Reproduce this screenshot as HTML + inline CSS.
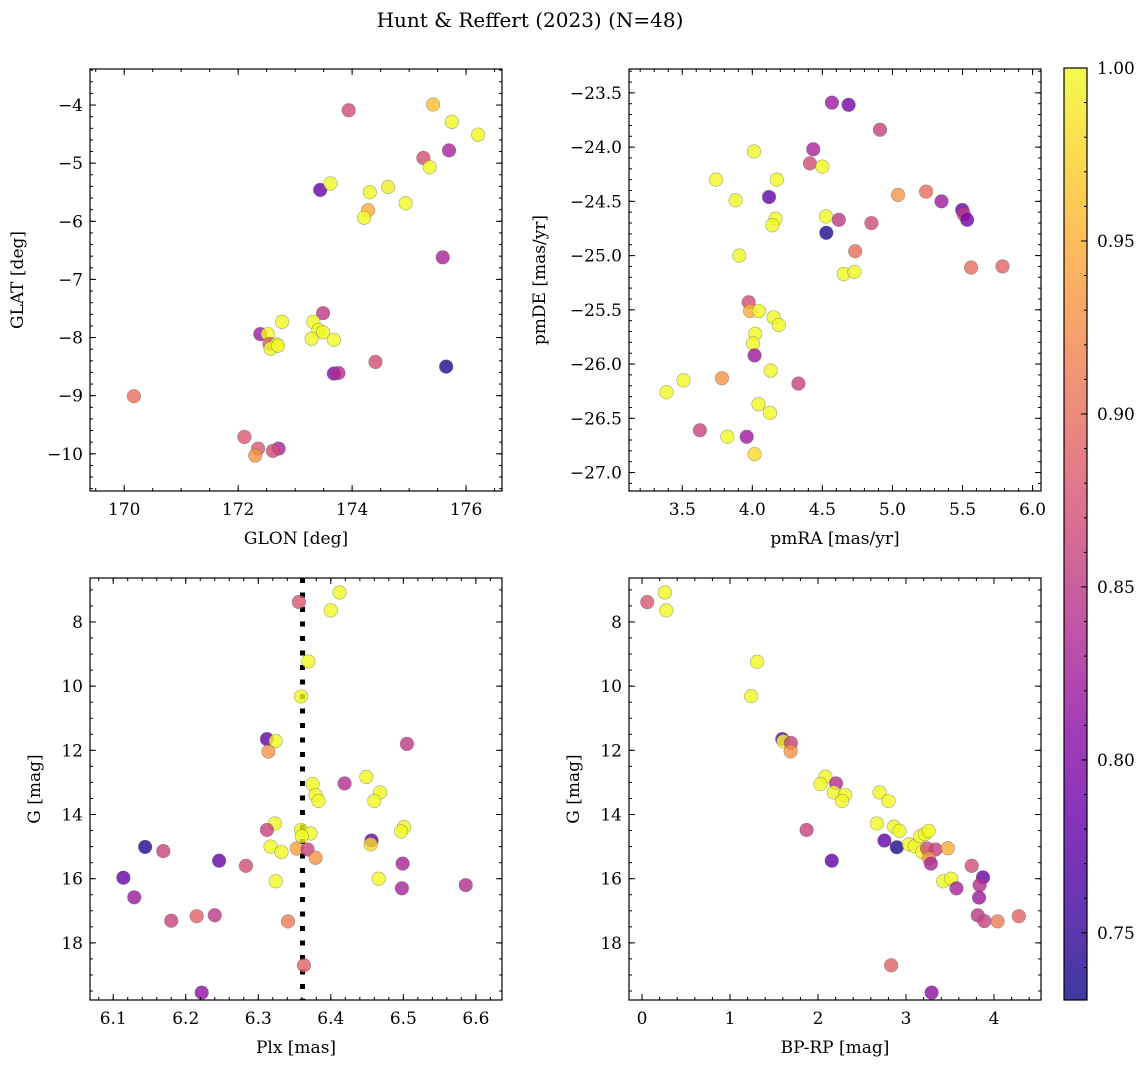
<!DOCTYPE html>
<html><head><meta charset="utf-8">
<style>
html,body{margin:0;padding:0;background:#fff;}
svg text{font-family:"DejaVu Serif","Liberation Serif",serif;fill:#000;}
</style></head>
<body>
<svg id="fig" width="1148" height="1068" viewBox="0 0 1148 1068" xmlns="http://www.w3.org/2000/svg">
<rect width="1148" height="1068" fill="#fff"/>
<text x="530" y="27" font-size="20" text-anchor="middle">Hunt &amp; Reffert (2023) (N=48)</text>
</svg>
<script>
// ---- Panel 1 data: GLON / GLAT ----
const p1_glon=[173.94,175.42,175.75,176.21,175.25,175.70,175.36,173.44,173.62,174.31,174.63,174.94,174.28,174.21,175.59,173.49,172.77,173.32,173.41,173.49,173.29,173.68,172.39,172.52,172.55,172.67,172.57,172.70,174.41,173.68,173.76,175.65,170.17,172.11,172.35,172.30,172.71,172.61];
const p1_glat=[-4.09,-3.99,-4.29,-4.51,-4.91,-4.78,-5.07,-5.46,-5.35,-5.50,-5.41,-5.69,-5.81,-5.94,-6.62,-7.58,-7.73,-7.73,-7.87,-7.91,-8.02,-8.04,-7.94,-7.94,-8.11,-8.12,-8.19,-8.14,-8.42,-8.62,-8.61,-8.50,-9.01,-9.71,-9.91,-10.03,-9.91,-9.95];
const p1_prob=[0.87,0.96,1.0,1.0,0.87,0.83,1.0,0.78,1.0,1.0,0.99,1.0,0.95,1.0,0.83,0.85,1.0,1.0,1.0,1.0,1.0,1.0,0.82,1.0,0.88,1.0,1.0,1.0,0.87,0.80,0.84,0.74,0.90,0.88,0.88,0.93,0.83,0.87];
// ---- Panel 2 data: pmRA / pmDE ----
const p2_pmra=[4.568,4.687,4.911,4.435,4.411,4.50,4.012,3.741,4.175,3.881,4.119,4.166,4.143,4.526,4.617,4.528,4.850,5.04,5.24,5.35,5.498,5.51,5.533,4.734,5.561,5.785,3.907,4.652,4.729,3.974,3.984,4.047,4.152,4.189,4.021,4.005,4.016,4.131,3.509,3.388,3.783,4.329,4.044,4.126,3.626,3.822,3.960,4.016];
const p2_pmde=[-23.59,-23.61,-23.84,-24.02,-24.15,-24.18,-24.04,-24.30,-24.30,-24.49,-24.46,-24.66,-24.72,-24.64,-24.67,-24.79,-24.70,-24.44,-24.41,-24.50,-24.58,-24.62,-24.67,-24.96,-25.11,-25.10,-25.00,-25.17,-25.15,-25.43,-25.51,-25.51,-25.57,-25.64,-25.72,-25.81,-25.92,-26.06,-26.15,-26.26,-26.13,-26.18,-26.37,-26.45,-26.61,-26.67,-26.67,-26.83];
const p2_prob=[0.82,0.79,0.86,0.83,0.87,1.0,1.0,1.0,1.0,1.0,0.78,1.0,1.0,1.0,0.85,0.74,0.87,0.93,0.90,0.82,0.78,0.85,0.79,0.90,0.90,0.89,1.0,1.0,1.0,0.87,0.95,1.0,1.0,1.0,1.0,1.0,0.82,1.0,1.0,1.0,0.93,0.86,1.0,1.0,0.86,1.0,0.82,0.98];
// ---- Panel 3 data: Plx / G ----
const p3_plx=[6.356,6.412,6.400,6.369,6.359,6.312,6.324,6.314,6.505,6.449,6.419,6.375,6.379,6.383,6.468,6.460,6.323,6.312,6.501,6.497,6.359,6.372,6.360,6.456,6.455,6.317,6.332,6.353,6.368,6.379,6.144,6.169,6.246,6.283,6.499,6.114,6.324,6.466,6.498,6.586,6.129,6.180,6.215,6.240,6.341,6.363,6.222];
const p3_g=[7.38,7.08,7.64,9.23,10.32,11.65,11.71,12.04,11.80,12.83,13.03,13.05,13.39,13.58,13.31,13.58,14.28,14.48,14.39,14.53,14.48,14.59,14.68,14.81,14.93,15.00,15.17,15.06,15.09,15.35,15.01,15.14,15.44,15.60,15.53,15.97,16.08,16.00,16.30,16.20,16.58,17.31,17.17,17.14,17.33,18.70,19.55];
const p3_prob=[0.88,1.0,1.0,1.0,1.0,0.78,1.0,0.93,0.85,1.0,0.84,1.0,1.0,1.0,1.0,1.0,1.0,0.86,1.0,1.0,1.0,1.0,1.0,0.78,0.98,1.0,1.0,0.94,0.86,0.93,0.74,0.86,0.78,0.87,0.83,0.78,1.0,1.0,0.83,0.84,0.82,0.86,0.89,0.85,0.91,0.89,0.81];
const p3_ref=[6.361];
// ---- Panel 4 data: BP-RP / G ----
const p4_bprp=[0.06,0.26,0.275,1.308,1.240,1.594,1.606,1.692,1.689,2.084,2.028,2.205,2.179,2.307,2.273,2.699,2.801,1.870,2.669,2.865,2.925,2.755,2.895,3.034,3.098,3.159,3.215,3.257,3.185,3.24,3.336,3.475,3.26,3.283,2.156,3.747,3.875,3.423,3.513,3.573,3.837,3.830,3.815,3.890,4.041,4.282,2.831,3.291];
const p4_g=[7.38,7.08,7.64,9.24,10.31,11.65,11.72,11.77,12.03,12.82,13.05,13.03,13.31,13.39,13.58,13.31,13.58,14.48,14.28,14.38,14.51,14.81,15.02,14.93,14.99,14.68,14.61,14.51,15.17,15.06,15.09,15.05,15.36,15.53,15.44,15.60,15.96,16.08,16.00,16.30,16.20,16.59,17.14,17.32,17.33,17.17,18.70,19.55];
const p4_prob=[0.88,1.0,1.0,1.0,1.0,0.78,1.0,0.86,0.93,1.0,1.0,0.84,1.0,1.0,1.0,1.0,1.0,0.86,1.0,1.0,1.0,0.78,0.74,1.0,1.0,1.0,1.0,1.0,1.0,0.87,0.86,0.95,0.93,0.83,0.78,0.87,0.78,1.0,1.0,0.83,0.84,0.82,0.85,0.86,0.91,0.89,0.89,0.81];
// ---- colorbar ----
const cb_ticks=[0.75,0.80,0.85,0.90,0.95,1.00];
const cb_labels=["0.75","0.80","0.85","0.90","0.95","1.00"];
const cb_min=0.7306, cb_max=1.0;

const NS="http://www.w3.org/2000/svg";
const svg=document.getElementById('fig');
function mk(tag,attrs,parent){const e=document.createElementNS(NS,tag);for(const k in attrs)e.setAttribute(k,attrs[k]);(parent||svg).appendChild(e);return e;}
const stops=["#0d0887","#41049d","#6a00a8","#8f0da4","#b12a90","#cc4778","#e16462","#f2844b","#fca636","#fcce25","#f0f921"];
function hex(h){return [parseInt(h.slice(1,3),16),parseInt(h.slice(3,5),16),parseInt(h.slice(5,7),16)];}
function plasma(t){t=Math.max(0,Math.min(1,t));const f=t*10,i=Math.min(9,Math.floor(f)),u=f-i;const a=hex(stops[i]),b=hex(stops[i+1]);return 'rgb('+a.map((v,k)=>Math.round(v+(b[k]-v)*u)).join(',')+')';}
function fmt(v,dec){return (v<0?'\u2212':'')+Math.abs(v).toFixed(dec);}

function panel(o){
  const g=mk('g',{});
  
  
  const sx=v=>o.x0+(v-o.xmin)/(o.xmax-o.xmin)*(o.x1-o.x0);
  const sy=o.yinv?(v=>o.y0+(v-o.ymin)/(o.ymax-o.ymin)*(o.y1-o.y0)):(v=>o.y1-(v-o.ymin)/(o.ymax-o.ymin)*(o.y1-o.y0));
  const clip='clip-'+o.name;
  const cp=mk('clipPath',{id:clip},g);mk('rect',{x:o.x0,y:o.y0,width:o.x1-o.x0,height:o.y1-o.y0},cp);
  const pg=mk('g',{'clip-path':'url(#'+clip+')'},g);
  if(o.vline){o.vline.forEach(v=>{const l=mk('line',{x1:sx(v),x2:sx(v),y1:o.y0,y2:o.y1,stroke:'#000','stroke-width':5,'stroke-dasharray':'5 9.5'},pg);
    
    });}
  o.xs.forEach((xv,i)=>{const c=mk('circle',{cx:sx(xv),cy:sy(o.ys[i]),r:6.8,fill:plasma((o.c[i]-cb_min)/(cb_max-cb_min)),'fill-opacity':0.8,stroke:'#555','stroke-opacity':0.5,'stroke-width':0.6},pg);
    
    });
  mk('rect',{x:o.x0,y:o.y0,width:o.x1-o.x0,height:o.y1-o.y0,fill:'none',stroke:'#000','stroke-width':1.2},g);
  const ticks=(lo,hi,step)=>{const a=[];for(let v=Math.ceil(lo/step-1e-6)*step;v<=hi+1e-9;v+=step)a.push(+v.toFixed(6));return a;};
  ticks(o.xmin,o.xmax,o.xminor).forEach(v=>{const X=sx(v);mk('line',{x1:X,x2:X,y1:o.y1,y2:o.y1-3,stroke:'#000'},g);mk('line',{x1:X,x2:X,y1:o.y0,y2:o.y0+3,stroke:'#000'},g);});
  ticks(o.ymin,o.ymax,o.yminor).forEach(v=>{const Y=sy(v);mk('line',{x1:o.x0,x2:o.x0+3,y1:Y,y2:Y,stroke:'#000'},g);mk('line',{x1:o.x1,x2:o.x1-3,y1:Y,y2:Y,stroke:'#000'},g);});
  o.xticks.forEach(v=>{const X=sx(v);mk('line',{x1:X,x2:X,y1:o.y1,y2:o.y1-6,stroke:'#000'},g);mk('line',{x1:X,x2:X,y1:o.y0,y2:o.y0+6,stroke:'#000'},g);
    const t=mk('text',{x:X,y:o.y1+24,'font-size':17,'text-anchor':'middle'},g);t.textContent=fmt(v,o.xdec);
    
    });
  o.yticks.forEach(v=>{const Y=sy(v);mk('line',{x1:o.x0,x2:o.x0+6,y1:Y,y2:Y,stroke:'#000'},g);mk('line',{x1:o.x1,x2:o.x1-6,y1:Y,y2:Y,stroke:'#000'},g);
    const t=mk('text',{x:o.x0-7,y:Y+6,'font-size':17,'text-anchor':'end'},g);t.textContent=fmt(v,o.ydec);
    
    });
  const xt=mk('text',{x:(o.x0+o.x1)/2,y:o.y1+53,'font-size':17,'text-anchor':'middle'},g);xt.textContent=o.xlabel;
  
  
  const yc=(o.y0+o.y1)/2;
  const yt=mk('text',{x:o.ylx,y:yc,'font-size':17,'text-anchor':'middle',transform:'rotate(-90 '+o.ylx+' '+yc+')'},g);yt.textContent=o.ylabel;
  
  
}
panel({name:'glon-glat-panel',x0:90,x1:502,y0:69,y1:491,xmin:169.40,xmax:176.63,ymin:-10.64,ymax:-3.38,xs:p1_glon,ys:p1_glat,c:p1_prob,
  xticks:[170,172,174,176],xdec:0,xminor:0.5,yticks:[-10,-9,-8,-7,-6,-5,-4],ydec:0,yminor:0.2,xlabel:'GLON [deg]',ylabel:'GLAT [deg]',ylx:23});
panel({name:'proper-motion-panel',x0:629,x1:1041,y0:69,y1:491,xmin:3.12,xmax:6.06,ymin:-27.17,ymax:-23.28,xs:p2_pmra,ys:p2_pmde,c:p2_prob,
  xticks:[3.5,4.0,4.5,5.0,5.5,6.0],xdec:1,xminor:0.1,yticks:[-27,-26.5,-26,-25.5,-25,-24.5,-24,-23.5],ydec:1,yminor:0.1,xlabel:'pmRA [mas/yr]',ylabel:'pmDE [mas/yr]',ylx:545});
panel({name:'parallax-magnitude-panel',x0:90,x1:502,y0:578,y1:1000,xmin:6.068,xmax:6.636,ymin:6.63,ymax:19.78,yinv:true,xs:p3_plx,ys:p3_g,c:p3_prob,vline:p3_ref,
  xticks:[6.1,6.2,6.3,6.4,6.5,6.6],xdec:1,xminor:0.02,yticks:[8,10,12,14,16,18],ydec:0,yminor:0.5,xlabel:'Plx [mas]',ylabel:'G [mag]',ylx:40});
panel({name:'color-magnitude-panel',x0:629,x1:1041,y0:578,y1:1000,xmin:-0.148,xmax:4.534,ymin:6.63,ymax:19.78,yinv:true,xs:p4_bprp,ys:p4_g,c:p4_prob,
  xticks:[0,1,2,3,4],xdec:0,xminor:0.2,yticks:[8,10,12,14,16,18],ydec:0,yminor:0.5,xlabel:'BP-RP [mag]',ylabel:'G [mag]',ylx:579});

const cb=mk('g',{});


const cbx=1064,cbw=23,cby0=68,cby1=1000;
const grad=mk('linearGradient',{id:'cbg',x1:0,y1:1,x2:0,y2:0},cb);
for(let i=0;i<=20;i++){mk('stop',{offset:i/20,'stop-color':plasma(i/20),'stop-opacity':0.8},grad);}
mk('rect',{x:cbx,y:cby0,width:cbw,height:cby1-cby0,fill:'url(#cbg)',stroke:'#000','stroke-width':1.2},cb);
const cy=v=>cby1-(v-cb_min)/(cb_max-cb_min)*(cby1-cby0);
for(let v=0.74;v<=1.0001;v+=0.01){const Y=cy(v);mk('line',{x1:cbx+cbw,x2:cbx+cbw-3,y1:Y,y2:Y,stroke:'#000'},cb);}
cb_ticks.forEach((v,i)=>{const Y=cy(v);mk('line',{x1:cbx+cbw,x2:cbx+cbw-6,y1:Y,y2:Y,stroke:'#000'},cb);
  const t=mk('text',{x:cbx+cbw+10,y:Y+6,'font-size':17},cb);t.textContent=cb_labels[i];
  
  });
</script>
</body></html>
